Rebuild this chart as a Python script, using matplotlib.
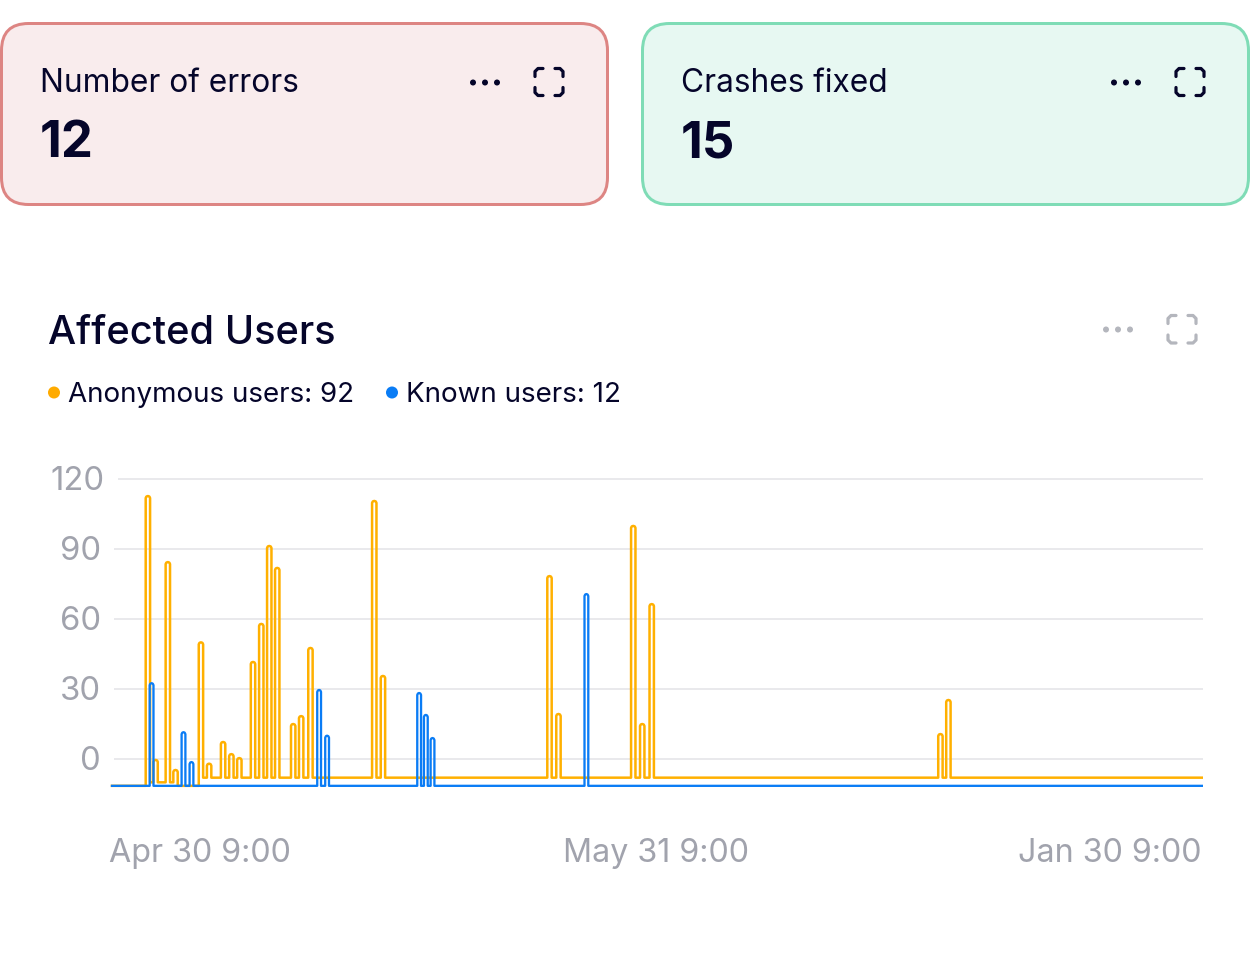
import numpy as np
import matplotlib
matplotlib.use("Agg")
import matplotlib.pyplot as plt
from matplotlib.patches import FancyBboxPatch, Circle
from matplotlib.transforms import ScaledTranslation

plt.rcParams['font.family'] = ['Inter', 'DejaVu Sans']

# ---- data ----
card_titles = ["Number of errors", "Crashes fixed"]
card_values = ["12", "15"]
chart_title = "Affected Users"
legend_labels = ["Anonymous users: 92", "Known users: 12"]
y_ticks = [0, 30, 60, 90, 120]
x_tick_labels = ["Apr 30 9:00", "May 31 9:00", "Jan 30 9:00"]
x_tick_pos = [106, 654, 1201]

anon_x = [145, 152.7, 165, 172.7, 198.2, 206.4, 220.4, 228.7, 236.7, 250.4, 258.7, 266.7, 274.7,
          290.7, 298.7, 308, 372, 380.7, 547.7, 556.7, 631.7, 640.7, 650.2, 939.7, 947.7]
anon_y = [112.7, -0.4, 84.4, -4.7, 50, -2, 7.3, 2.1, 0.4, 41.6, 57.9, 91.3, 81.9,
          15, 18.4, 47.6, 110.6, 35.6, 78.4, 19.3, 99.9, 15, 66.4, 10.7, 25.3]
anon_floor = [-10, -10, -10, -11.5, -8, -8, -8, -8, -8, -8, -8, -8, -8,
              -8, -8, -8, -8, -8, -8, -8, -8, -8, -8, -8, -8]
anon_start = -11.5
known_x = [148.7, 180.7, 188.7, 316.7, 324.7, 417, 423.7, 430.4, 584.7]
known_y = [32.5, 11.5, -1.3, 29.6, 10, 28.3, 18.9, 9, 70.7]
known_floor = -11.5
x_start, x_end = 109, 1203

W, H = 1250, 956
fig = plt.figure(figsize=(W / 100, H / 100), dpi=100)
px = 72 / 100
INK = "#05052a"
GREY = "#a1a3ad"

# decoration layer in pixel coordinates
bg = fig.add_axes([0, 0, 1, 1])
bg.set_xlim(0, W)
bg.set_ylim(H, 0)
bg.axis("off")


def dots(cx, cy, color, gap=12, r=3):
    for dx in (-gap, 0, gap):
        bg.add_patch(Circle((cx + dx, cy), r, fc=color, ec="none"))


def corners(x0, y0, x1, y1, color, lw=3.2, arm=8, rad=3):
    for sx, sy, cx, cy in [(1, 1, x0, y0), (-1, 1, x1, y0), (1, -1, x0, y1), (-1, -1, x1, y1)]:
        xs = [cx, cx, cx + sx * rad, cx + sx * arm]
        ys = [cy + sy * arm, cy + sy * rad, cy, cy]
        bg.plot(xs, ys, color=color, lw=lw * px, solid_capstyle="round", solid_joinstyle="round")


cards = [(1.5, "#dd8583", "#f9eced"), (642.5, "#7fdcb6", "#e7f8f2")]
for (x0, ec, fc), t, v in zip(cards, card_titles, card_values):
    bg.add_patch(FancyBboxPatch((x0 + 27, 23.5 + 27), 606 - 54, 181 - 54,
                                boxstyle="round,pad=27,rounding_size=27",
                                fc=fc, ec=ec, lw=3 * px))
    bg.text(x0 + 38.5, 80, t, fontsize=22.8, color=INK, va="center_baseline", ha="left")
    bg.text(x0 + 38.5, 138.5, v, fontsize=36.5, color=INK, fontweight="bold",
            va="center_baseline", ha="left")
    dots(x0 + 483.5, 82.5, INK)
    corners(x0 + 533.5, 68.5, x0 + 561.5, 95.5, INK)

bg.text(48, 330, chart_title, fontsize=28.6, color=INK, fontweight="medium",
        va="center_baseline", ha="left")
dots(1118, 329.5, "#b4b6bd")
corners(1168, 315.5, 1196, 343, "#b4b6bd")

leg = [(54, "#ffab00", 68.5), (392, "#0a7cf5", 406.5)]
for (cx, col, tx), lab in zip(leg, legend_labels):
    bg.add_patch(Circle((cx, 392.5), 6, fc=col, ec="none"))
    bg.text(tx, 392, lab, fontsize=20.0, color=INK, va="center_baseline", ha="left")

# chart layer
top_px, bot_px = 460, 800
zero_px, unit_px = 759, 280 / 120
ax = fig.add_axes([x_start / W, 1 - bot_px / H, (x_end - x_start) / W, (bot_px - top_px) / H])
ax.patch.set_alpha(0)
ax.set_xlim(x_start, x_end)
ax.set_ylim((zero_px - bot_px) / unit_px, (zero_px - top_px) / unit_px)
for s in ax.spines.values():
    s.set_visible(False)
for v in y_ticks:
    ax.plot([115 if v == 120 else 111, x_end], [v, v], color="#e9e9ec", lw=2 * px, zorder=1,
            solid_capstyle="butt")


def spike_path(xs, ys, floors, start, half):
    px_x, px_y = [x_start], [start]
    dy = 2 / unit_px
    for x, y, f in zip(xs, ys, floors):
        before = px_y[-1]
        px_x += [x - half, x - half, x - half + 0.7, x, x + half - 0.7, x + half, x + half]
        px_y += [before, y - dy, y - dy * 0.25, y, y - dy * 0.25, y - dy, f]
    px_x.append(x_end)
    px_y.append(px_y[-1])
    return px_x, px_y


ox, oy = spike_path(anon_x, anon_y, anon_floor, anon_start, 2.2)
kx, ky = spike_path(known_x, known_y, [known_floor] * len(known_x), known_floor, 1.9)
ax.plot(ox, oy, color="#ffb000", lw=2.5 * px, zorder=3, solid_joinstyle="round")
ax.plot(kx, ky, color="#0a7cf5", lw=2.3 * px, zorder=4, solid_joinstyle="round")

ax.set_yticks(y_ticks)
ax.set_yticklabels([str(v) for v in y_ticks], fontsize=23.6, color=GREY)
ax.set_xticks(x_tick_pos)
ax.set_xticklabels(x_tick_labels, fontsize=23.2, color=GREY)
for lab, ha in zip(ax.get_xticklabels(), ["left", "center", "right"]):
    lab.set_ha(ha)
ax.tick_params(axis="y", length=0, pad=4 * px)
ax.tick_params(axis="x", length=0, pad=38 * px)
# two-digit labels sit 4 px further left than the three-digit one; all sit 1 px higher
for lab, v in zip(ax.get_yticklabels(), y_ticks):
    shift = 0 if v == 120 else -4
    lab.set_transform(lab.get_transform() + ScaledTranslation(shift / 100, 1 / 100, fig.dpi_scale_trans))

fig.savefig("out.png", dpi=100)
